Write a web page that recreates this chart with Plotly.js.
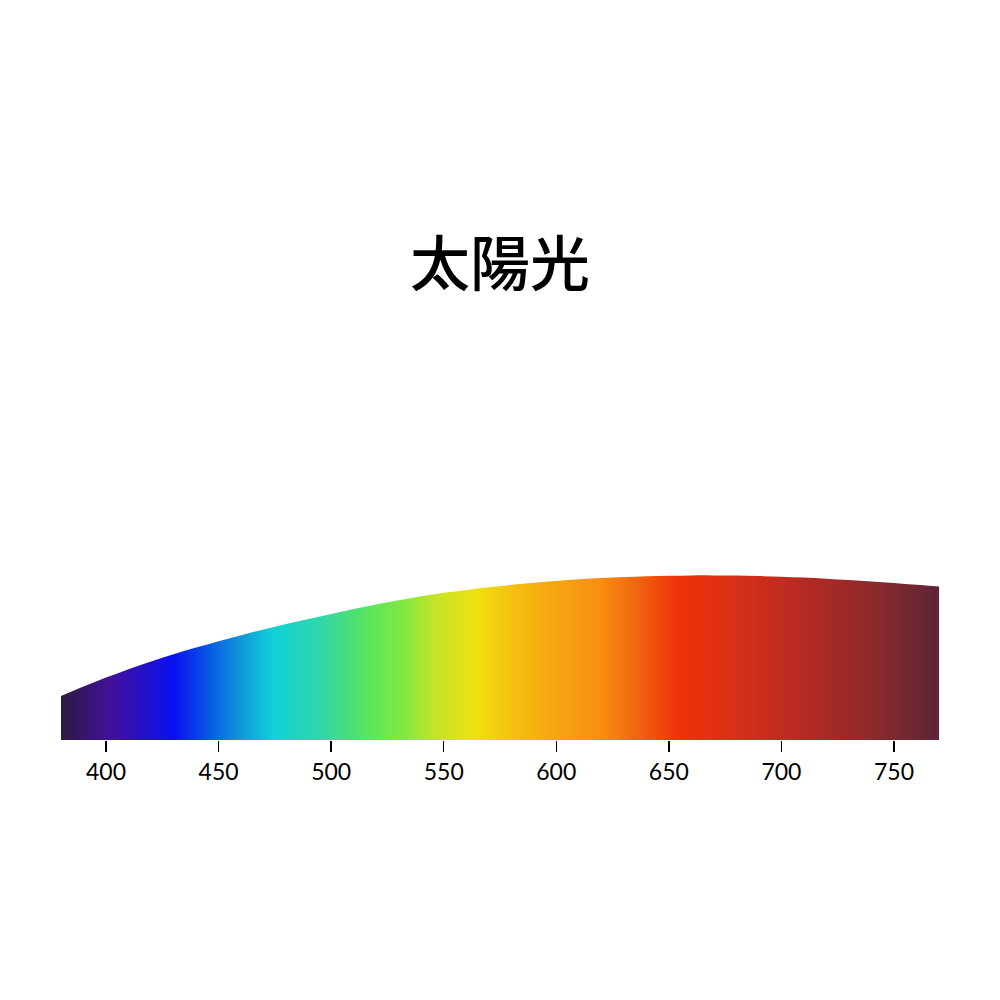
<!DOCTYPE html>
<html>
<head>
<meta charset="utf-8">
<script src="https://cdn.plot.ly/plotly-3.0.1.min.js"></script>
<style>html,body{margin:0;padding:0;background:#fff;}#chart{width:1000px;height:1000px;}</style>
</head>
<body>
<div id="chart"></div>
<script>
const wavelengths = [380,390,400,410,420,430,440,450,460,470,480,490,500,510,520,530,540,550,560,570,580,590,600,610,620,630,640,650,660,670,680,690,700,710,720,730,740,750,760,770];
const irradiance = [0.267,0.325,0.379,0.430,0.476,0.520,0.561,0.600,0.636,0.671,0.704,0.735,0.765,0.795,0.822,0.848,0.872,0.893,0.911,0.927,0.942,0.955,0.965,0.975,0.983,0.989,0.994,0.997,0.999,0.999,0.998,0.995,0.991,0.986,0.979,0.971,0.962,0.953,0.942,0.931];
const tickValues = [400,450,500,550,600,650,700,750];
const tickLabels = ['400','450','500','550','600','650','700','750'];
const colorWavelengths = [380,402,430,450,460,474,496,511,522,534,545,564,581,597,619,634,655,679,708,738,770];
const colorValues = ['#2c1a42','#42109a','#0a10f0','#0a6ce0','#1098d8','#10d0d8','#30d8a8','#50e070','#68e850','#88e840','#c0e428','#f0e010','#f5c010','#f5a810','#f89010','#f06a10','#f03008','#d83018','#b82a22','#902a2a','#5e2436'];
const titleText = '太陽光';

const xMin = 380, xMax = 770;
const colorscale = colorWavelengths.map((w, i) => [(w - xMin) / (xMax - xMin), colorValues[i]]);

const trace = {
  x: wavelengths,
  y: irradiance,
  type: 'scatter',
  mode: 'lines',
  line: {width: 0, shape: 'spline', smoothing: 1},
  fill: 'tozeroy',
  fillgradient: {type: 'horizontal', colorscale: colorscale, start: xMin, stop: xMax},
  hoverinfo: 'skip'
};

const layout = {
  width: 1000, height: 1000,
  paper_bgcolor: '#ffffff', plot_bgcolor: '#ffffff',
  margin: {l: 61, r: 61, t: 567, b: 260, pad: 0},
  showlegend: false,
  title: {
    text: titleText,
    font: {family: '"Noto Sans CJK JP", "Noto Sans CJK TC", sans-serif', size: 60, color: '#000000', weight: 500},
    x: 0.5, xanchor: 'center', xref: 'paper',
    y: 0.735, yanchor: 'middle', yref: 'container'
  },
  xaxis: {
    range: [xMin, xMax],
    tickmode: 'array', tickvals: tickValues, ticktext: tickLabels,
    ticks: 'outside', ticklen: 11, tickwidth: 1.4, tickcolor: '#000000',
    showgrid: false, zeroline: false, showline: false,
    tickfont: {family: 'Lato, "Noto Sans", sans-serif', size: 23, color: '#000000'}
  },
  yaxis: {
    range: [0, 1.05], visible: false, showgrid: false, zeroline: false
  }
};

Plotly.newPlot('chart', [trace], layout, {displayModeBar: false, staticPlot: true});
</script>
</body>
</html>
